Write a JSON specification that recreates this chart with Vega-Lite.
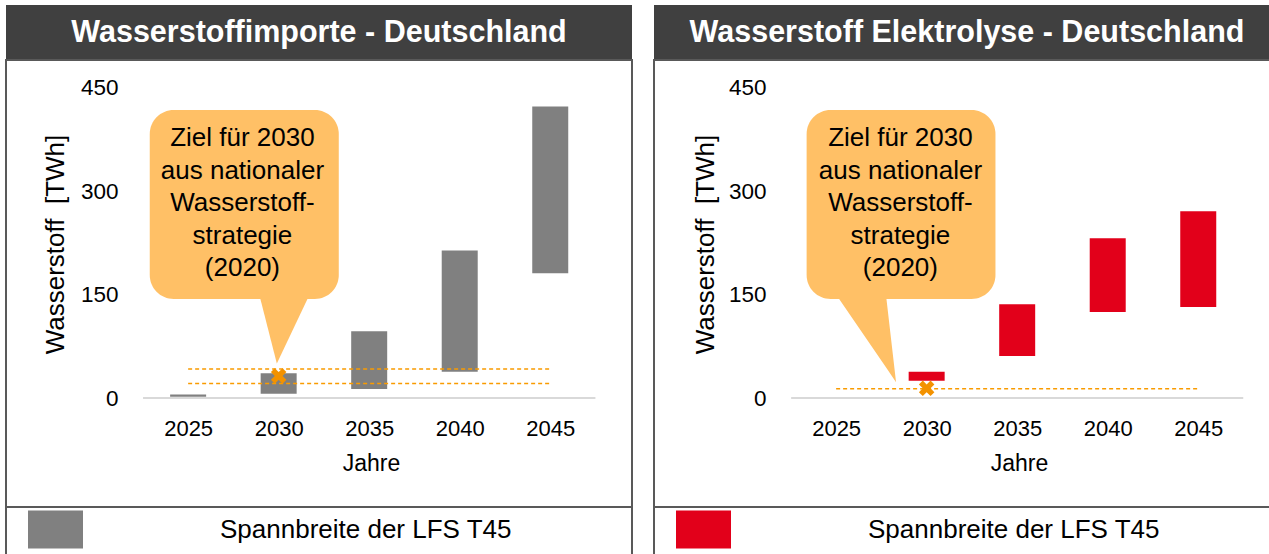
{
  "$schema": "https://vega.github.io/schema/vega-lite/v6.json",
  "padding": {"left": 5, "top": 5, "right": 0, "bottom": 0},
  "background": "white",
  "datasets": {
    "links": [
      {"jahr": 2025, "min": 2, "max": 5},
      {"jahr": 2030, "min": 6, "max": 36},
      {"jahr": 2035, "min": 13, "max": 97},
      {"jahr": 2040, "min": 38, "max": 214},
      {"jahr": 2045, "min": 181, "max": 423}
    ],
    "rechts": [
      {"jahr": 2030, "min": 25, "max": 38},
      {"jahr": 2035, "min": 61, "max": 136},
      {"jahr": 2040, "min": 125, "max": 232},
      {"jahr": 2045, "min": 132, "max": 271}
    ],
    "ziele_links": [
      {"von": 2025, "bis": 2045, "wert": 42},
      {"von": 2025, "bis": 2045, "wert": 21}
    ],
    "ziele_rechts": [
      {"von": 2025, "bis": 2045, "wert": 13.5}
    ],
    "ziel2030_links": [{"jahr": 2030, "wert": 32}],
    "ziel2030_rechts": [{"jahr": 2030, "wert": 14}],
    "blase_links": [
      {"x_links": 2022.88, "x_rechts": 2033.32, "y_oben": 418, "y_unten": 143.7, "x_text": 2028.0, "y_text": 377,
       "text": ["Ziel für 2030", "aus nationaler", "Wasserstoff-", "strategie", "(2020)"]}
    ],
    "blase_rechts": [
      {"x_links": 2023.37, "x_rechts": 2033.8, "y_oben": 418, "y_unten": 143.7, "x_text": 2028.55, "y_text": 377,
       "text": ["Ziel für 2030", "aus nationaler", "Wasserstoff-", "strategie", "(2020)"]}
    ],
    "zeiger_links": [
      {"x": 2028.97, "oben": 146, "unten": 146},
      {"x": 2029.9, "oben": 146, "unten": 50},
      {"x": 2031.63, "oben": 146, "unten": 146}
    ],
    "zeiger_rechts": [
      {"x": 2025.11, "oben": 146, "unten": 146},
      {"x": 2027.77, "oben": 146, "unten": 44},
      {"x": 2028.31, "oben": 23, "unten": 23}
    ]
  },
  "hconcat": [
    {
      "spacing": 0,
      "bounds": "flush",
      "vconcat": [
        {
          "width": 626, "height": 55,
          "view": {"fill": "#404040", "stroke": null},
          "data": {"values": [{"titel": "Wasserstoffimporte - Deutschland"}]},
          "mark": {"type": "text", "color": "white", "fontWeight": "bold", "fontSize": 30.5, "align": "center", "baseline": "middle"},
          "encoding": {"text": {"field": "titel"}}
        },
        {
          "width": 626, "height": 447,
          "view": {"stroke": "#595959", "strokeWidth": 2},
          "layer": [
            {
              "data": {"name": "ziele_links"},
              "mark": {"type": "rule", "color": "#D9D9D9", "strokeWidth": 2, "xOffset": -45, "x2Offset": 45},
              "encoding": {
                "x": {"field": "von", "type": "quantitative", "scale": {"domain": [2015.217, 2049.239], "nice": false, "zero": false},
                  "axis": {"values": [2025, 2030, 2035, 2040, 2045], "format": "d", "orient": "bottom", "offset": -79, "domain": false, "ticks": false, "grid": false, "labelPadding": 0, "labelBaseline": "middle", "labelFontSize": 22, "labelColor": "black", "labelFlush": false, "labelOverlap": false, "title": "Jahre", "titleFontSize": 23, "titleFontWeight": "normal", "titleColor": "black", "titleX": 365, "titleY": 35, "titleBaseline": "middle", "titleAlign": "center"}},
                "x2": {"field": "bis"},
                "y": {"datum": 0, "type": "quantitative", "scale": {"domain": [-158.2, 490.6], "nice": false, "zero": false},
                  "axis": {"values": [0, 150, 300, 450], "orient": "left", "offset": -112, "domain": false, "ticks": false, "grid": false, "labelPadding": 0, "labelFontSize": 22.5, "labelColor": "black", "labelBaseline": "middle", "title": "Wasserstoff\u00a0 [TWh]", "titleFontSize": 26, "titleFontWeight": "normal", "titleColor": "black", "titleAngle": 270, "titleX": -63, "titleY": 184, "titleBaseline": "middle", "titleAlign": "center"}}
              }
            },
            {
              "data": {"name": "links"},
              "mark": {"type": "bar", "width": 36},
              "encoding": {
                "x": {"field": "jahr", "type": "quantitative", "scale": {"domain": [2015.217, 2049.239], "nice": false, "zero": false}},
                "y": {"field": "min", "type": "quantitative", "scale": {"domain": [-158.2, 490.6], "nice": false, "zero": false}},
                "y2": {"field": "max"},
                "color": {"datum": "Spannbreite der LFS T45", "type": "nominal", "scale": {"range": ["#808080"]},
                  "legend": {"orient": "none", "legendX": 22, "legendY": 497, "title": null, "symbolType": "M-1,-0.69H1V0.69H-1Z", "symbolSize": 3025, "symbolStrokeWidth": 0, "symbolOpacity": 1, "labelFontSize": 26, "labelColor": "black", "labelOffset": 137, "padding": 0, "labelLimit": 500}}
              }
            },
            {
              "data": {"name": "ziele_links"},
              "mark": {"type": "rule", "color": "#F99B00", "strokeDash": [4, 3], "strokeWidth": 1.5},
              "encoding": {
                "x": {"field": "von", "type": "quantitative", "scale": {"domain": [2015.217, 2049.239], "nice": false, "zero": false}},
                "x2": {"field": "bis"},
                "y": {"field": "wert", "type": "quantitative", "scale": {"domain": [-158.2, 490.6], "nice": false, "zero": false}}
              }
            },
            {
              "data": {"name": "ziel2030_links"},
              "mark": {"type": "point", "shape": "M-1,-0.5L-0.5,-1L0,-0.5L0.5,-1L1,-0.5L0.5,0L1,0.5L0.5,1L0,0.5L-0.5,1L-1,0.5L-0.5,0Z", "filled": true, "color": "#F39200", "size": 240, "opacity": 1, "strokeWidth": 0},
              "encoding": {
                "x": {"field": "jahr", "type": "quantitative", "scale": {"domain": [2015.217, 2049.239], "nice": false, "zero": false}},
                "y": {"field": "wert", "type": "quantitative", "scale": {"domain": [-158.2, 490.6], "nice": false, "zero": false}}
              }
            },
            {
              "data": {"name": "blase_links"},
              "mark": {"type": "rect", "color": "#FFC066", "cornerRadius": 24},
              "encoding": {
                "x": {"field": "x_links", "type": "quantitative", "scale": {"domain": [2015.217, 2049.239], "nice": false, "zero": false}},
                "x2": {"field": "x_rechts"},
                "y": {"field": "y_oben", "type": "quantitative", "scale": {"domain": [-158.2, 490.6], "nice": false, "zero": false}},
                "y2": {"field": "y_unten"}
              }
            },
            {
              "data": {"name": "zeiger_links"},
              "mark": {"type": "area", "color": "#FFC066", "opacity": 1},
              "encoding": {
                "x": {"field": "x", "type": "quantitative", "scale": {"domain": [2015.217, 2049.239], "nice": false, "zero": false}},
                "y": {"field": "oben", "type": "quantitative", "scale": {"domain": [-158.2, 490.6], "nice": false, "zero": false}},
                "y2": {"field": "unten"}
              }
            },
            {
              "data": {"name": "blase_links"},
              "mark": {"type": "text", "fontSize": 26, "lineHeight": 32.5, "align": "center", "baseline": "middle", "color": "black"},
              "encoding": {
                "x": {"field": "x_text", "type": "quantitative", "scale": {"domain": [2015.217, 2049.239], "nice": false, "zero": false}},
                "y": {"field": "y_text", "type": "quantitative", "scale": {"domain": [-158.2, 490.6], "nice": false, "zero": false}},
                "text": {"field": "text"}
              }
            }
          ]
        },
        {
          "width": 626, "height": 53,
          "view": {"stroke": "#595959", "strokeWidth": 2},
          "data": {"values": [{"leer": ""}]},
          "mark": {"type": "text"},
          "encoding": {"text": {"field": "leer"}}
        }
      ]
    },
    {
      "spacing": 0,
      "bounds": "flush",
      "vconcat": [
        {
          "width": 626, "height": 55,
          "view": {"fill": "#404040", "stroke": null},
          "data": {"values": [{"titel": "Wasserstoff Elektrolyse - Deutschland"}]},
          "mark": {"type": "text", "color": "white", "fontWeight": "bold", "fontSize": 30.5, "align": "center", "baseline": "middle"},
          "encoding": {"text": {"field": "titel"}}
        },
        {
          "width": 626, "height": 447,
          "view": {"stroke": "#595959", "strokeWidth": 2},
          "layer": [
            {
              "data": {"name": "ziele_rechts"},
              "mark": {"type": "rule", "color": "#D9D9D9", "strokeWidth": 2, "xOffset": -45, "x2Offset": 45},
              "encoding": {
                "x": {"field": "von", "type": "quantitative", "scale": {"domain": [2015.217, 2049.239], "nice": false, "zero": false},
                  "axis": {"values": [2025, 2030, 2035, 2040, 2045], "format": "d", "orient": "bottom", "offset": -79, "domain": false, "ticks": false, "grid": false, "labelPadding": 0, "labelBaseline": "middle", "labelFontSize": 22, "labelColor": "black", "labelFlush": false, "labelOverlap": false, "title": "Jahre", "titleFontSize": 23, "titleFontWeight": "normal", "titleColor": "black", "titleX": 365, "titleY": 35, "titleBaseline": "middle", "titleAlign": "center"}},
                "x2": {"field": "bis"},
                "y": {"datum": 0, "type": "quantitative", "scale": {"domain": [-158.2, 490.6], "nice": false, "zero": false},
                  "axis": {"values": [0, 150, 300, 450], "orient": "left", "offset": -112, "domain": false, "ticks": false, "grid": false, "labelPadding": 0, "labelFontSize": 22.5, "labelColor": "black", "labelBaseline": "middle", "title": "Wasserstoff\u00a0 [TWh]", "titleFontSize": 26, "titleFontWeight": "normal", "titleColor": "black", "titleAngle": 270, "titleX": -61, "titleY": 184, "titleBaseline": "middle", "titleAlign": "center"}}
              }
            },
            {
              "data": {"name": "rechts"},
              "mark": {"type": "bar", "width": 36},
              "encoding": {
                "x": {"field": "jahr", "type": "quantitative", "scale": {"domain": [2015.217, 2049.239], "nice": false, "zero": false}},
                "y": {"field": "min", "type": "quantitative", "scale": {"domain": [-158.2, 490.6], "nice": false, "zero": false}},
                "y2": {"field": "max"},
                "color": {"datum": "Spannbreite der LFS T45", "type": "nominal", "scale": {"range": ["#E2001A"]},
                  "legend": {"orient": "none", "legendX": 22, "legendY": 497, "title": null, "symbolType": "M-1,-0.69H1V0.69H-1Z", "symbolSize": 3025, "symbolStrokeWidth": 0, "symbolOpacity": 1, "labelFontSize": 26, "labelColor": "black", "labelOffset": 137, "padding": 0, "labelLimit": 500}}
              }
            },
            {
              "data": {"name": "ziele_rechts"},
              "mark": {"type": "rule", "color": "#F99B00", "strokeDash": [4, 3], "strokeWidth": 1.5},
              "encoding": {
                "x": {"field": "von", "type": "quantitative", "scale": {"domain": [2015.217, 2049.239], "nice": false, "zero": false}},
                "x2": {"field": "bis"},
                "y": {"field": "wert", "type": "quantitative", "scale": {"domain": [-158.2, 490.6], "nice": false, "zero": false}}
              }
            },
            {
              "data": {"name": "ziel2030_rechts"},
              "mark": {"type": "point", "shape": "M-1,-0.5L-0.5,-1L0,-0.5L0.5,-1L1,-0.5L0.5,0L1,0.5L0.5,1L0,0.5L-0.5,1L-1,0.5L-0.5,0Z", "filled": true, "color": "#F39200", "size": 240, "opacity": 1, "strokeWidth": 0},
              "encoding": {
                "x": {"field": "jahr", "type": "quantitative", "scale": {"domain": [2015.217, 2049.239], "nice": false, "zero": false}},
                "y": {"field": "wert", "type": "quantitative", "scale": {"domain": [-158.2, 490.6], "nice": false, "zero": false}}
              }
            },
            {
              "data": {"name": "blase_rechts"},
              "mark": {"type": "rect", "color": "#FFC066", "cornerRadius": 24},
              "encoding": {
                "x": {"field": "x_links", "type": "quantitative", "scale": {"domain": [2015.217, 2049.239], "nice": false, "zero": false}},
                "x2": {"field": "x_rechts"},
                "y": {"field": "y_oben", "type": "quantitative", "scale": {"domain": [-158.2, 490.6], "nice": false, "zero": false}},
                "y2": {"field": "y_unten"}
              }
            },
            {
              "data": {"name": "zeiger_rechts"},
              "mark": {"type": "area", "color": "#FFC066", "opacity": 1},
              "encoding": {
                "x": {"field": "x", "type": "quantitative", "scale": {"domain": [2015.217, 2049.239], "nice": false, "zero": false}},
                "y": {"field": "oben", "type": "quantitative", "scale": {"domain": [-158.2, 490.6], "nice": false, "zero": false}},
                "y2": {"field": "unten"}
              }
            },
            {
              "data": {"name": "blase_rechts"},
              "mark": {"type": "text", "fontSize": 26, "lineHeight": 32.5, "align": "center", "baseline": "middle", "color": "black"},
              "encoding": {
                "x": {"field": "x_text", "type": "quantitative", "scale": {"domain": [2015.217, 2049.239], "nice": false, "zero": false}},
                "y": {"field": "y_text", "type": "quantitative", "scale": {"domain": [-158.2, 490.6], "nice": false, "zero": false}},
                "text": {"field": "text"}
              }
            }
          ]
        },
        {
          "width": 626, "height": 53,
          "view": {"stroke": "#595959", "strokeWidth": 2},
          "data": {"values": [{"leer": ""}]},
          "mark": {"type": "text"},
          "encoding": {"text": {"field": "leer"}}
        }
      ]
    }
  ],
  "spacing": 20,
  "resolve": {"scale": {"x": "independent", "y": "independent", "color": "independent"}, "legend": {"color": "independent"}},
  "config": {
    "font": "Liberation Sans",
    "view": {"stroke": null}
  }
}
